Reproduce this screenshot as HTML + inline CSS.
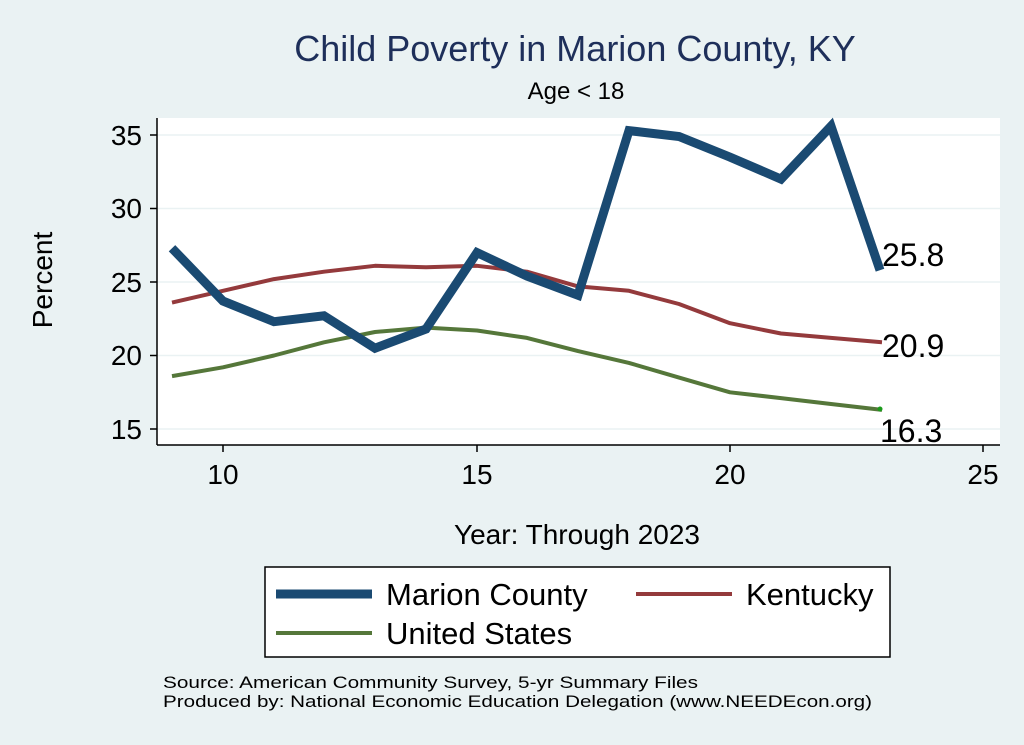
<!DOCTYPE html>
<html><head><meta charset="utf-8"><style>
html,body{margin:0;padding:0;background:#eaf2f3;}
svg{display:block;}
text{font-family:"Liberation Sans",Arial,sans-serif;}
</style></head><body>
<svg width="1024" height="745" viewBox="0 0 1024 745" xmlns="http://www.w3.org/2000/svg">
<rect x="0" y="0" width="1024" height="745" fill="#eaf2f3"/>
<rect x="157" y="118" width="843" height="327" fill="#ffffff"/>
<text x="575" y="61" font-size="36" fill="#1e2f5a" text-anchor="middle">Child Poverty in Marion County, KY</text>
<text x="576" y="99" font-size="24" fill="#000" text-anchor="middle">Age &lt; 18</text>
<g stroke="#eaf2f3" stroke-width="1.5">
<line x1="157" y1="135" x2="1000" y2="135"/>
<line x1="157" y1="208.5" x2="1000" y2="208.5"/>
<line x1="157" y1="282" x2="1000" y2="282"/>
<line x1="157" y1="355.5" x2="1000" y2="355.5"/>
<line x1="157" y1="429" x2="1000" y2="429"/>
</g>
<g stroke="#000" stroke-width="1.5">
<line x1="157" y1="118" x2="157" y2="445"/>
<line x1="157" y1="445" x2="1000" y2="445"/>
<line x1="150" y1="135" x2="157" y2="135"/>
<line x1="150" y1="208.5" x2="157" y2="208.5"/>
<line x1="150" y1="282" x2="157" y2="282"/>
<line x1="150" y1="355.5" x2="157" y2="355.5"/>
<line x1="150" y1="429" x2="157" y2="429"/>
<line x1="223" y1="445" x2="223" y2="452"/>
<line x1="477" y1="445" x2="477" y2="452"/>
<line x1="730" y1="445" x2="730" y2="452"/>
<line x1="983" y1="445" x2="983" y2="452"/>
</g>
<g font-size="28" fill="#000" text-anchor="end">
<text x="142" y="145">35</text><text x="142" y="218">30</text><text x="142" y="292">25</text><text x="142" y="365">20</text><text x="142" y="439">15</text>
</g>
<g font-size="28" fill="#000" text-anchor="middle">
<text x="223" y="484">10</text><text x="477" y="484">15</text><text x="730" y="484">20</text><text x="983" y="484">25</text>
</g>
<text x="52" y="280" font-size="28" fill="#000" text-anchor="middle" transform="rotate(-90 52 280)">Percent</text>
<text x="577" y="544" font-size="28" fill="#000" text-anchor="middle">Year: Through 2023</text>
<polyline fill="none" stroke="#55773a" stroke-width="4" stroke-linejoin="round" points="172,376.1 223,367.3 274,355.5 324,342.3 375,332 426,327.6 477,330.5 527,337.9 578,351.1 629,362.9 679,377.6 730,392.3 781,398.1 831,404 882,409.9"/>
<circle cx="880" cy="409" r="2.5" fill="#1a9a1a"/>
<polyline fill="none" stroke="#943a3c" stroke-width="4" stroke-linejoin="round" points="172,302.6 223,290.8 274,279.1 324,271.7 375,265.8 426,267.3 477,265.8 527,271.7 578,286.4 629,290.8 679,304 730,323.2 781,333.5 831,337.9 882,342.3"/>
<polyline fill="none" stroke="#1a4a72" stroke-width="9" stroke-linejoin="miter" points="172,248.2 223,301.1 274,321.7 324,315.8 375,348.2 426,329 477,252.6 527,276.1 578,295.2 629,130.6 679,136.5 730,157.1 781,179.1 831,126.2 880,270.2"/>
<g font-size="32" fill="#000">
<text x="882" y="266">25.8</text><text x="882" y="357">20.9</text><text x="880" y="442">16.3</text>
</g>
<rect x="265" y="567" width="625" height="90" fill="#fff" stroke="#000" stroke-width="1.5"/>
<line x1="276" y1="594" x2="372" y2="594" stroke="#1a4a72" stroke-width="9"/>
<text x="386" y="605" font-size="31" fill="#000">Marion County</text>
<line x1="636" y1="594" x2="732" y2="594" stroke="#943a3c" stroke-width="4"/>
<text x="746" y="605" font-size="31" fill="#000">Kentucky</text>
<line x1="276" y1="633" x2="372" y2="633" stroke="#55773a" stroke-width="4"/>
<text x="386" y="644" font-size="31" fill="#000">United States</text>
<text x="163" y="688" font-size="17" fill="#000" textLength="535" lengthAdjust="spacingAndGlyphs">Source: American Community Survey, 5-yr Summary Files</text>
<text x="163" y="707" font-size="17" fill="#000" textLength="709" lengthAdjust="spacingAndGlyphs">Produced by: National Economic Education Delegation (www.NEEDEcon.org)</text>
</svg>
</body></html>
